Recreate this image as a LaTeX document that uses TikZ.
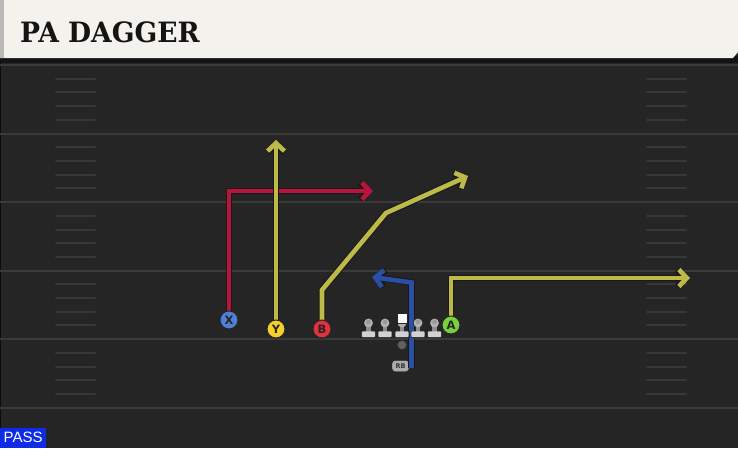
\documentclass[tikz,border=0pt]{standalone}
\usepackage{fontspec}
\usetikzlibrary{arrows.meta}
\newfontfamily\titlefont{DejaVu Serif}
\newfontfamily\labelfont{DejaVu Sans}
\newfontfamily\passfont{Liberation Sans}
\definecolor{fieldbg}{HTML}{252525}
\definecolor{fieldline}{HTML}{3A3A3A}
\definecolor{hashcol}{HTML}{383838}
\definecolor{headerbg}{HTML}{F4F2EC}
\definecolor{routered}{HTML}{B8143C}
\definecolor{routeyel}{HTML}{BDBA4A}
\definecolor{routeblue}{HTML}{2B4EA6}
\definecolor{pX}{HTML}{4F80D6}
\definecolor{pY}{HTML}{F5D02A}
\definecolor{pB}{HTML}{E2303C}
\definecolor{pA}{HTML}{78D03A}
\definecolor{passblue}{HTML}{0F2BE6}
\tikzset{
  routeback/.style={line width=6.6pt, draw=black!90, line join=miter, -{Straight Barb[length=8pt,width=17pt]}},
  route/.style={line width=4.6pt, line join=miter, -{Straight Barb[length=8pt,width=17pt]}},
  player/.style={circle, minimum size=18pt, inner sep=0pt, draw=black!85, line width=1pt,
    font=\labelfont\bfseries\fontsize{11.5}{11.5}\selectfont, text=black!85},
  yardline/.style={draw=fieldline, line width=2pt},
  hashmark/.style={draw=hashcol, line width=2pt, line cap=round},
  pics/lineman/.style={code={
    \fill[black!85] (-7.5,7.5) rectangle (7.5,15);
    \fill[black!85] (0,0) circle (5.2);
    \fill[black!85] (-3,0) rectangle (3,9);
    \fill[gray!90!white] (-2.4,0) rectangle (2.4,10);
    \fill[rounded corners=1pt, gray!35!white] (-6.7,8.3) rectangle (6.7,14.2);
    \fill[gray!60!white] (0,0) circle (4.4);
    \fill[gray!80!white] (0,-1) circle (2.3);
  }}
}
\newcommand\playroute[2]{\draw[routeback] #2; \draw[route,draw=#1] #2;}
\begin{document}
\begin{tikzpicture}[x=1pt,y=-1pt]
\useasboundingbox (0,0) rectangle (738,448);
% field
\fill[fieldbg] (0,0) rectangle (738,448);
\draw[draw=black!70!fieldbg, line width=1pt] (0.5,60) -- (0.5,448);
\foreach \k in {0,...,5} {
  \draw[yardline] (0,{65+\k*68.55}) -- (738,{65+\k*68.55});
}
\foreach \k in {0,...,4} {
  \foreach \j in {1,...,4} {
    \draw[hashmark] (56,{65+\k*68.55+\j*13.71}) -- (95,{65+\k*68.55+\j*13.71});
    \draw[hashmark] (647,{65+\k*68.55+\j*13.71}) -- (686,{65+\k*68.55+\j*13.71});
  }
}
% header
\fill[black!92] (0,56) rectangle (738,63);
\fill[headerbg] (0,0) -- (738,0) -- (738,52) -- (733,58) -- (0,58) -- cycle;
\fill[gray!55!white] (0,0) rectangle (4,58);
\node[anchor=base west, inner sep=0pt, text=black!92, font=\titlefont\bfseries\fontsize{28}{28}\selectfont, xscale=0.95] (title) at (20,42) {PA DAGGER};
% players
\node[player, fill=pX] (X) at (229,320) {X};
\node[player, fill=pY] (Y) at (276,329) {Y};
\node[player, fill=pB] (B) at (322,329) {B};
\node[player, fill=pA] (A) at (451,325) {A};
\node[draw=black!85, fill=gray!65!white, rounded corners=3pt, minimum width=17pt, minimum height=11pt, inner sep=0pt, font=\labelfont\bfseries\fontsize{6.5}{6.5}\selectfont, text=black!80] (RB) at (400.5,366) {RB};
\node[circle, fill=gray!75!black, draw=black!80, minimum size=9pt, inner sep=0pt] (ball) at (402,345) {};
% route points
\coordinate (xc) at (229,191);
\coordinate (xe) at (373,191);
\coordinate (ye) at (276,140);
\coordinate (b1) at (322,290);
\coordinate (b2) at (386,213);
\coordinate (be) at (468,176);
\coordinate (a1) at (451,278);
\coordinate (ae) at (690,278);
\coordinate (r0) at (411.5,368);
\coordinate (r1) at (411.5,282.5);
\coordinate (re) at (372,277);
% routes
\playroute{routered}{(X.center) -- (xc) -- (xe)}
\playroute{routeyel}{(Y.center) -- (ye)}
\playroute{routeyel}{(B.center) -- (b1) -- (b2) -- (be)}
\playroute{routeyel}{(A.center) -- (a1) -- (ae)}
\playroute{routeblue}{(r0) -- (r1) -- (re)}
% redraw players on top
\node[player, fill=pX] at (X) {X};
\node[player, fill=pY] at (Y) {Y};
\node[player, fill=pB] at (B) {B};
\node[player, fill=pA] at (A) {A};
% linemen
\pic at (368.5,323) {lineman};
\pic at (385,323) {lineman};
\pic at (418,323) {lineman};
\pic at (434.5,323) {lineman};
\pic at (402,323) {lineman};
\fill[black!85] (396.5,313) rectangle (407.5,324);
\fill[white!95!gray] (397.5,314) rectangle (406.5,323);
% pass label
\node[fill=passblue, text=white, anchor=south west, minimum width=46pt, minimum height=20pt, inner sep=0pt, font=\passfont\fontsize{15}{15}\selectfont] (pass) at (0,448) {PASS};
\end{tikzpicture}
\end{document}
